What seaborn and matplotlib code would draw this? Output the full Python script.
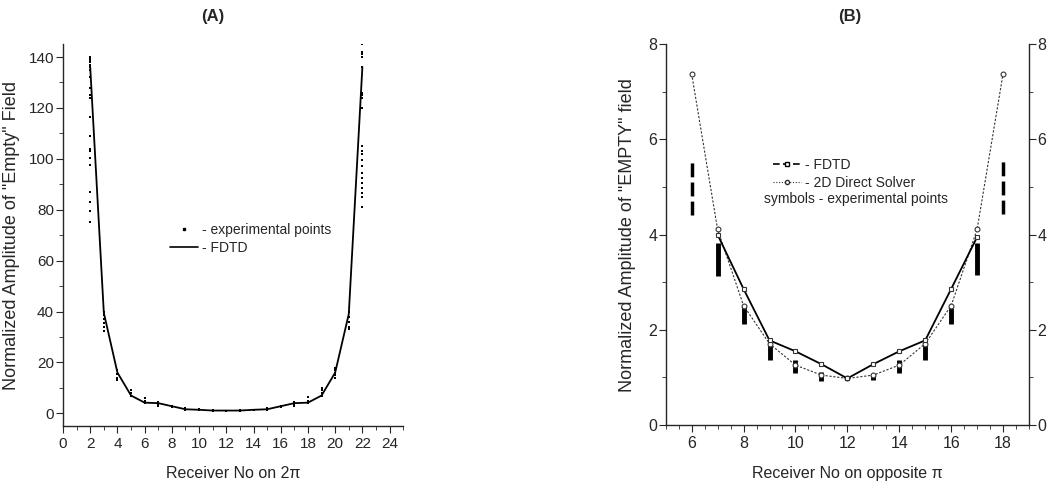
import numpy as np
import matplotlib
matplotlib.use("Agg")
import matplotlib.pyplot as plt
from matplotlib.lines import Line2D
from matplotlib.ticker import MultipleLocator
import seaborn as sns

# ---- panel A data (receivers on 2*pi) ----
fdtd_a_x = list(range(2, 23))
fdtd_a_y = [136, 39.5, 16, 7, 4.2, 4, 2.8, 1.6, 1.4, 1.1, 1.1,
            1.1, 1.4, 1.6, 2.8, 4, 4.2, 7, 16, 39, 136]

# experimental points, one list of readings per receiver
exp_a_rx = list(range(2, 23))
exp_a_vals = [
    [140, 139.5, 139, 138.5, 138, 137, 136, 135, 132, 128, 125, 124, 116.5,
     109, 104, 103, 100.5, 97.5, 87, 83, 79.5, 75],
    [40, 38.5, 37, 35.5, 34, 32.5],
    [17, 15.5, 14, 13],
    [9, 8, 7],
    [6, 5, 4],
    [4.5, 3.5, 3],
    [3, 2.5],
    [2, 1.5],
    [1.6, 1.2],
    [1.2, 1.0],
    [1.1, 0.9],
    [1.2, 1.0],
    [1.5, 1.2],
    [2, 1.5],
    [3, 2.5],
    [4.5, 3.5, 3],
    [6.5, 5, 4],
    [10, 9, 8, 7],
    [18, 17, 16, 15, 14],
    [40, 38, 36, 34, 33],
    [145, 142, 141, 140, 136, 126, 125, 124, 120, 105, 103, 102, 99.5, 97,
     94.5, 92.5, 90.5, 88.5, 86.5, 85, 81],
]

# ---- panel B data (receivers on opposite pi) ----
fdtd_b_x = list(range(7, 18))
fdtd_b_y = [4.0, 2.86, 1.78, 1.55, 1.28, 0.98, 1.28, 1.55, 1.78, 2.86, 3.95]

solver_b_x = list(range(6, 19))
solver_b_y = [7.38, 4.11, 2.51, 1.71, 1.26, 1.05, 0.98, 1.05, 1.26, 1.71,
              2.51, 4.11, 7.38]

exp_b_x = [6, 7, 8, 9, 10, 11, 13, 14, 15, 16, 17, 18]
exp_b_lo = [4.42, 3.13, 2.13, 1.36, 1.10, 0.92, 0.94, 1.10, 1.36, 2.13, 3.15, 4.43]
exp_b_hi = [5.56, 3.83, 2.52, 1.68, 1.36, 1.12, 1.08, 1.36, 1.68, 2.47, 3.83, 5.58]

sns.set_style("ticks")
plt.rcParams['font.family'] = ['Liberation Sans', 'DejaVu Sans']
plt.rcParams['axes.linewidth'] = 1.0
plt.rcParams['xtick.major.size'] = 5
plt.rcParams['ytick.major.size'] = 5
plt.rcParams['xtick.minor.size'] = 3
plt.rcParams['ytick.minor.size'] = 3
plt.rcParams['xtick.major.pad'] = 3
plt.rcParams['ytick.major.pad'] = 1.5
plt.rcParams['xtick.minor.visible'] = True
plt.rcParams['ytick.minor.visible'] = True

fig = plt.figure(figsize=(10.5, 4.92), dpi=100)
ax_a = fig.add_axes([0.060, 0.134, 0.324, 0.776])
ax_b = fig.add_axes([0.634, 0.136, 0.346, 0.774])

# ---------------- panel A ----------------
px, py = [], []
for rx, vals in zip(exp_a_rx, exp_a_vals):
    px += [rx] * len(vals)
    py += vals
sns.scatterplot(x=px, y=py, ax=ax_a, marker='s', s=3, color='black',
                linewidth=0, zorder=3)
sns.lineplot(x=fdtd_a_x, y=fdtd_a_y, ax=ax_a, color='black', lw=1.3)

ax_a.set_xlim(0, 25)
ax_a.set_ylim(-5, 145)
ax_a.xaxis.set_major_locator(MultipleLocator(2))
ax_a.xaxis.set_minor_locator(MultipleLocator(1))
ax_a.yaxis.set_major_locator(MultipleLocator(20))
ax_a.yaxis.set_minor_locator(MultipleLocator(10))
ax_a.tick_params(labelsize=11)
ax_a.spines['top'].set_visible(False)
ax_a.spines['right'].set_visible(False)
ax_a.set_xlabel("Receiver No on 2\u03c0", fontsize=11.5, labelpad=11)
ax_a.set_ylabel('Normalized Amplitude of "Empty" Field', fontsize=13, labelpad=6)

handles_a = [Line2D([], [], marker='s', ls='none', ms=1.8, color='black'),
             Line2D([], [], color='black', lw=1.2)]
ax_a.legend(handles_a, ['- experimental points', '- FDTD'], loc='center left',
            bbox_to_anchor=(0.315, 0.49), frameon=False, fontsize=10,
            borderpad=0, borderaxespad=0, handlelength=2.0, handletextpad=0.3,
            labelspacing=0.3)

# ---------------- panel B ----------------
solid = [x not in (6, 18) for x in exp_b_x]
ax_b.vlines([x for x, s in zip(exp_b_x, solid) if s],
            [v for v, s in zip(exp_b_lo, solid) if s],
            [v for v, s in zip(exp_b_hi, solid) if s],
            color='black', lw=3.5, zorder=2)
ax_b.vlines([x for x, s in zip(exp_b_x, solid) if not s],
            [v for v, s in zip(exp_b_lo, solid) if not s],
            [v for v, s in zip(exp_b_hi, solid) if not s],
            color='black', lw=2.5, linestyles=(0, (4, 1.5)), zorder=2)

sns.lineplot(x=solver_b_x, y=solver_b_y, ax=ax_b, color='#333333', lw=0.8,
             dashes=False, linestyle=(0, (2, 1.5)), marker='o', ms=3.5,
             markerfacecolor='white', markeredgecolor='#333333',
             markeredgewidth=0.8, zorder=3)
sns.lineplot(x=fdtd_b_x, y=fdtd_b_y, ax=ax_b, color='black', lw=1.3,
             marker='s', ms=3.5, markerfacecolor='white',
             markeredgecolor='#333333', markeredgewidth=0.8, zorder=4)

ax_b.set_xlim(5, 19)
ax_b.set_ylim(0, 8)
ax_b.xaxis.set_major_locator(MultipleLocator(2))
ax_b.xaxis.set_minor_locator(MultipleLocator(0.5))
ax_b.yaxis.set_major_locator(MultipleLocator(2))
ax_b.yaxis.set_minor_locator(MultipleLocator(1))
ax_b.tick_params(labelsize=11.5, right=True, labelright=True, which='both')
ax_b.tick_params(axis='y', pad=1)
ax_b.spines['top'].set_visible(False)
ax_b.set_xlabel("Receiver No on opposite \u03c0", fontsize=11.5, labelpad=11)
ax_b.set_ylabel('Normalized Amplitude of "EMPTY" field', fontsize=13, labelpad=9)

handles_b = [Line2D([], [], color='black', lw=1.2, ls=(0, (4, 2)), marker='s',
                    ms=3, markerfacecolor='white'),
             Line2D([], [], color='#333333', lw=0.8, ls=(0, (1, 1.5)), marker='o',
                    ms=3, markerfacecolor='white')]
ax_b.legend(handles_b, ['- FDTD', '- 2D Direct Solver'], loc='center left',
            bbox_to_anchor=(0.295, 0.66), frameon=False, fontsize=10,
            borderpad=0, borderaxespad=0, handlelength=2.0, handletextpad=0.3,
            labelspacing=0.3)
ax_b.text(0.27, 0.593, 'symbols - experimental points', transform=ax_b.transAxes,
          fontsize=10, va='center', ha='left')

fig.text(213 / 1050, 1 - 17 / 492, '(A)', fontsize=12, fontweight='bold',
         ha='center', va='center')
fig.text(850 / 1050, 1 - 17 / 492, '(B)', fontsize=12, fontweight='bold',
         ha='center', va='center')

fig.savefig('out.png', dpi=100)
